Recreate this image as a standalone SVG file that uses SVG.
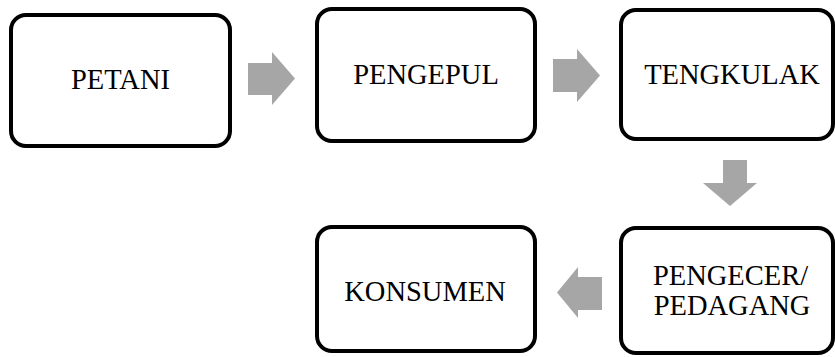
<svg xmlns="http://www.w3.org/2000/svg" width="835" height="357" viewBox="0 0 835 357">
<style>
.box{fill:#fff;stroke:#000;stroke-width:4}
.lbl{font-family:"Liberation Serif","Times New Roman",serif;font-size:28.5px;fill:#000;text-anchor:middle}
.arr{fill:#a6a6a6}
</style>
<rect width="835" height="357" fill="#fff"/>
<g id="connectors">
<polygon class="arr" points="248,63 272,63 272,52 295,78.5 272,105 272,95 248,95"/>
<polygon class="arr" points="553,59 577,59 577,49 600,75.5 577,102 577,92 553,92"/>
<polygon class="arr" points="723,160 747,160 747,183 757,183 730,206 703,183 723,183"/>
<polygon class="arr" points="602,277 578,277 578,267 557,292.5 578,318 578,310 602,310"/>
</g>
<g id="petani">
<rect class="box" x="11" y="15" width="219" height="131" rx="15"/>
<text class="lbl" x="120.5" y="89">PETANI</text>
</g>
<g id="pengepul">
<rect class="box" x="317" y="9" width="218" height="132" rx="15"/>
<text class="lbl" x="426" y="84">PENGEPUL</text>
</g>
<g id="tengkulak">
<rect class="box" x="621" y="10" width="212" height="129" rx="15"/>
<text class="lbl" x="732" y="84">TENGKULAK</text>
</g>
<g id="pengecer">
<rect class="box" x="621" y="228" width="212" height="125" rx="15"/>
<text class="lbl" x="730.5" y="285">PENGECER/</text>
<text class="lbl" x="732" y="315">PEDAGANG</text>
</g>
<g id="konsumen">
<rect class="box" x="317" y="227" width="218" height="124" rx="15"/>
<text class="lbl" x="425" y="301">KONSUMEN</text>
</g>
</svg>
